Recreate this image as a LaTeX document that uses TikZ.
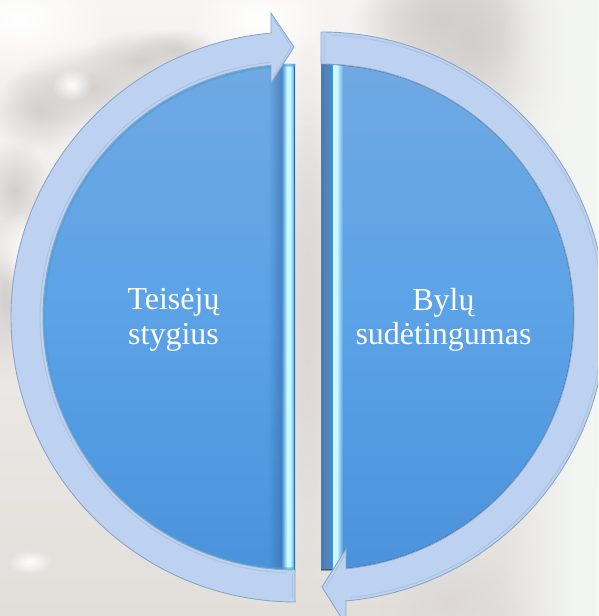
\documentclass[tikz,border=0pt]{standalone}
\usepackage{fontspec}
\setmainfont{Liberation Serif}
\usetikzlibrary{fadings}
\tikzfading[name=softblob, inner color=transparent!0, outer color=transparent!100]
\definecolor{ringfill}{HTML}{BCD2F0}
\definecolor{ringedge}{HTML}{8DA6C8}
\definecolor{ringbevel}{HTML}{ABC2E2}
\definecolor{bluetop}{HTML}{6FA9E3}
\definecolor{bluemid}{HTML}{5BA2E7}
\definecolor{bluebot}{HTML}{4A93DB}
\definecolor{glow}{HTML}{C8FBFF}
\definecolor{steel}{HTML}{2F639C}
\definecolor{bggrey}{HTML}{D2CFCC}
\definecolor{bgtop}{HTML}{F7F5F3}
\definecolor{bgmid}{HTML}{E8E5E2}
\definecolor{bgbot}{HTML}{E2DFDB}
\definecolor{bgright}{HTML}{F3F5F2}
\definecolor{bgpink}{HTML}{DDD8D6}
\newcommand{\blob}[5]{\fill[#5,path fading=softblob] (#1,616-#2) ellipse [x radius=#3,y radius=#4];}
\tikzset{
  ringshape/.style={fill=ringfill,draw=ringedge,line width=0.9pt,line join=miter},
  bevelline/.style={draw=ringbevel,line width=0.9pt},
  bluedisc/.style={bottom color=bluebot,top color=bluetop,middle color=bluemid,draw=none},
  caption/.style={text=white,align=center,font=\fontsize{32}{34.5}\selectfont,inner sep=0pt}
}
\begin{document}
\begin{tikzpicture}[x=1pt,y=1pt]
\useasboundingbox (0,0) rectangle (598,616);
\clip (0,0) rectangle (598,616);
% background photograph, washed out
\shade[top color=bgtop,middle color=bgmid,bottom color=bgbot] (0,0) rectangle (598,616);
\foreach \bx/\by/\rx/\ry in {90/88/85/42,40/110/50/40,140/60/60/30,175/50/45/22,15/190/35/50,5/300/35/80}{
  \blob{\bx}{\by}{\rx}{\ry}{bggrey}
}
\blob{72}{85}{20}{17}{white}
\blob{20}{20}{90}{55}{white}
\blob{260}{20}{70}{45}{white}
\blob{30}{250}{40}{40}{white}
\blob{30}{562}{22}{12}{white}
\blob{470}{40}{110}{130}{bggrey}
\blob{440}{20}{90}{70}{bggrey}
\blob{308}{310}{30}{270}{bgpink}
\blob{308}{300}{24}{200}{bgpink}
\blob{450}{600}{70}{50}{bgpink}
\fill[bgright,path fading=west] (500,0) rectangle (575,616);
\fill[bgright] (575,0) rectangle (598,616);
% left half disc
\begin{scope}
  \clip (0,0) rectangle (295,616);
  \shade[bluedisc] (296,299) circle [radius=253];
  \begin{scope}
    \clip (296,299) circle [radius=253];
    \fill[steel,opacity=.5,path fading=west] (268,0) rectangle (282,616);
    \shade[left color=bluemid!70!steel,right color=glow] (282,0) rectangle (287,616);
    \fill[glow] (287,0) rectangle (290,616);
    \shade[left color=glow,right color=glow!60!cyan!70!blue] (290,0) rectangle (294,616);
    \fill[steel] (294,0) rectangle (295,616);
  \end{scope}
  \draw[color=cyan!35!bluemid,line width=3pt,opacity=.6] (296,299) circle [radius=252];
\end{scope}
% right half disc
\begin{scope}
  \clip (321,0) rectangle (598,616);
  \shade[bluedisc] (321,299) circle [radius=253];
  \begin{scope}
    \clip (321,299) circle [radius=253];
    \shade[left color=steel!85!white,right color=bluemid!70!steel] (321,0) rectangle (333,616);
    \fill[glow] (333,0) rectangle (337,616);
    \fill[glow,path fading=east] (337,0) rectangle (343,616);
  \end{scope}
  \draw[color=black!55!bluemid,line width=1.4pt,opacity=.75] (321,299) circle [radius=253];
\end{scope}
% left arrow ring
\begin{scope}[shift={(296,299)}]
  \draw[ringshape] (270:285) arc [start angle=270,end angle=95.03,radius=285]
    -- (-25,304) -- (-2,270) -- (-25,234) -- (95.67:253)
    arc [start angle=95.67,end angle=270,radius=253] -- (-1,-253) -- (-1,-285) -- cycle;
  \draw[bevelline] (95.7:256) arc [start angle=95.7,end angle=268,radius=256];
  \draw[bevelline] (-22,297) -- (-5,270) -- (-22,241);
  \draw[bevelline] (-4,-257) -- (-4,-282);
\end{scope}
% right arrow ring
\begin{scope}[shift={(321,299)}]
  \draw[ringshape] (90:285) arc [start angle=90,end angle=-84.97,radius=285]
    -- (25,-308) -- (1,-270) -- (25,-232) -- (-84.33:253)
    arc [start angle=-84.33,end angle=90,radius=253] -- cycle;
  \draw[bevelline] (88:282) arc [start angle=88,end angle=-84,radius=282];
  \draw[bevelline] (23,-239) -- (5,-270);
  \draw[bevelline] (3,253) -- (3,282);
\end{scope}
% captions
\node[caption] (leftcap) at (173.5,616-320) {Teisėjų\\stygius};
\node[caption] (rightcap) at (443.5,616-320) {Bylų\\sudėtingumas};
\end{tikzpicture}
\end{document}
